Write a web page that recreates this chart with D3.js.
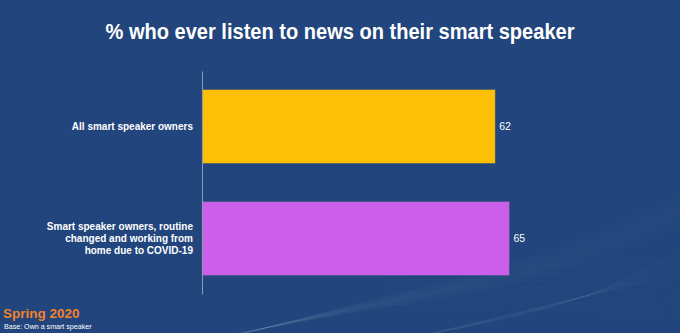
<!DOCTYPE html>
<html><head><meta charset="utf-8">
<script src="https://cdn.jsdelivr.net/npm/d3@7"></script>
<style>
html,body{margin:0;padding:0;background:#21457C;}
svg{display:block;}
text{font-family:"Liberation Sans",Arial,sans-serif;}
</style></head>
<body>
<svg id="chart" width="680" height="333"></svg>
<script>
const categories = [
  ["All smart speaker owners"],
  ["Smart speaker owners, routine", "changed and working from", "home due to COVID-19"]
];
const categoryKeys = ["All smart speaker owners", "Smart speaker owners, routine changed and working from home due to COVID-19"];
const values = [62, 65];
const barColors = ["#FDC004", "#CB5FEB"];
const title = "% who ever listen to news on their smart speaker";
const footerTitle = "Spring 2020";
const footerBase = "Base: Own a smart speaker";

const W = 680, H = 333;
const svg = d3.select("#chart");

svg.append("rect").attr("width", W).attr("height", H).attr("fill", "#21457C");

// decorative waves bottom-right
const deco = svg.append("g").attr("fill", "none").attr("stroke", "#ffffff");
const waveLine = d3.line().curve(d3.curveBasis);
for (let i = 0; i < 14; i++) {
  const t = i / 13;
  const pts = [[200, 340 + 6 * t], [360, 310 - 8 * t], [540, 285 - 25 * t], [680, 225 - 30 * t]];
  deco.append("path").attr("d", waveLine(pts)).attr("stroke-opacity", 0.035 + 0.03 * (1 - Math.abs(t - 0.5) * 2)).attr("stroke-width", 0.7);
}
for (let i = 0; i < 10; i++) {
  const t = i / 9;
  const pts = [[420, 336], [580, 305 - 8 * t], [680, 250 + 25 * t]];
  deco.append("path").attr("d", waveLine(pts)).attr("stroke-opacity", 0.04).attr("stroke-width", 0.7);
}
for (let i = 0; i < 8; i++) {
  const pts = [[380, 262 + 6 * i], [540, 258 + 7 * i], [680, 262 + 8 * i]];
  deco.append("path").attr("d", waveLine(pts)).attr("stroke-opacity", 0.035).attr("stroke-width", 0.6);
}

const x = d3.scaleLinear().domain([0, 100]).range([202, 675]);
const y = d3.scaleBand().domain(categoryKeys).range([71, 294]).paddingInner(0.34).paddingOuter(0.165);

// title
svg.append("text").attr("x", 340).attr("y", 39).attr("text-anchor", "middle")
  .attr("fill", "#ffffff").attr("font-weight", "bold").attr("font-size", 22)
  .attr("textLength", 469).attr("lengthAdjust", "spacingAndGlyphs")
  .text(title);

// bars
svg.selectAll("rect.bar").data(values).join("rect").attr("class", "bar")
  .attr("x", x(0)).attr("y", (d, i) => y(categoryKeys[i]))
  .attr("width", d => x(d) - x(0)).attr("height", y.bandwidth())
  .attr("fill", (d, i) => barColors[i])
  .attr("stroke", "#3d5575").attr("stroke-width", 0.6);

// axis line
const axis = d3.axisLeft(y).tickSize(0).tickFormat("");
const ag = svg.append("g").attr("transform", `translate(${x(0)},0)`).call(axis);
ag.select(".domain").attr("stroke", "#8e9cb3").attr("stroke-width", 1);

// value labels
svg.selectAll("text.val").data(values).join("text").attr("class", "val")
  .attr("x", d => x(d) + 4).attr("y", (d, i) => y(categoryKeys[i]) + y.bandwidth() / 2)
  .attr("dy", "0.35em").attr("fill", "#ffffff").attr("font-size", 10.5)
  .text(d => d);

// category labels
categories.forEach((lines, i) => {
  const cy = y(categoryKeys[i]) + y.bandwidth() / 2;
  const lh = 12;
  const t = svg.append("text").attr("text-anchor", "end").attr("fill", "#ffffff")
    .attr("font-weight", "bold").attr("font-size", 10);
  lines.forEach((l, j) => {
    t.append("tspan").attr("x", 193).attr("y", cy + (j - (lines.length - 1) / 2) * lh).attr("dy", "0.35em").text(l);
  });
});

// footer
svg.append("text").attr("x", 3).attr("y", 318).attr("fill", "#F0822D")
  .attr("font-weight", "bold").attr("font-size", 13.5).text(footerTitle);
svg.append("text").attr("x", 4).attr("y", 329).attr("fill", "#ffffff")
  .attr("font-size", 7.1).text(footerBase);
</script>
</body></html>
